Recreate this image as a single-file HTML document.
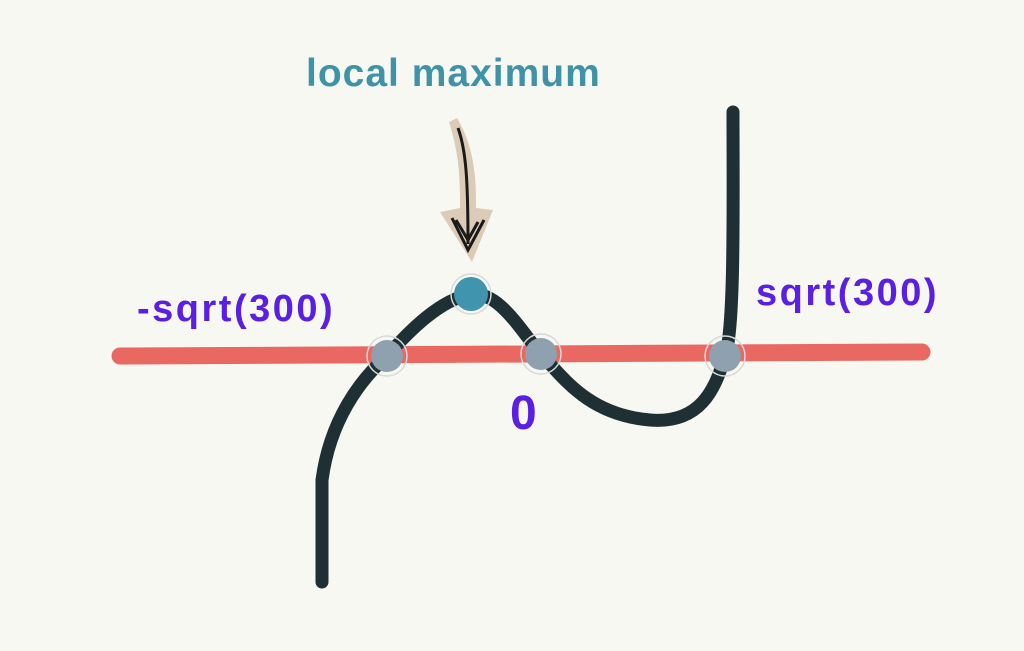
<!DOCTYPE html>
<html><head><style>
body{margin:0;width:1024px;height:651px;background:#f8f8f3;overflow:hidden;position:relative;font-family:"Liberation Sans","DejaVu Sans",sans-serif}
.t{position:absolute;font-weight:bold;white-space:nowrap}
</style></head><body>
<svg width="1024" height="651" style="position:absolute;left:0;top:0">
<line x1="120" y1="356" x2="922" y2="352" stroke="#e96862" stroke-width="17" stroke-linecap="round"/>
<path d="M322,582 L322,480 C330,420 360,380 387,356 C410,330 440,300 471,294 C500,292 520,330 541,354 C565,380 590,415 650,420 C700,424 715,390 725,356 C735,330 733,200 733,112" fill="none" stroke="#1e3033" stroke-width="13" stroke-linecap="round"/>
<path d="M449,122 L457,118 C470,140 476,165 476,200 L476,208 L493,210 L472,262 L440,212 L460,208 L460,200 C460,165 456,145 449,122 Z" fill="#dccbb6"/>
<path d="M458,128 C466,150 468,180 468,244" stroke="#1a1a1a" stroke-width="3" fill="none"/>
<path d="M452,218 L468,250 L484,220 M456,220 L468,240 L478,222" stroke="#1a1a1a" stroke-width="3" fill="none"/>
<g stroke="#d8d8d8" stroke-width="1.5">
<circle cx="387" cy="356" r="20" fill="none"/>
<circle cx="541" cy="354" r="20" fill="none"/>
<circle cx="725" cy="356" r="20" fill="none"/>
<circle cx="471" cy="294" r="20" fill="none"/>
</g>
<circle cx="387" cy="356" r="16" fill="#8fa0ae"/>
<circle cx="541" cy="354" r="16" fill="#8fa0ae"/>
<circle cx="725" cy="356" r="16" fill="#8fa0ae"/>
<circle cx="471" cy="294" r="17" fill="#4094ae"/>
</svg>
<div class="t" style="left:306px;top:52px;font-size:39px;letter-spacing:1px;color:#3f93a8">local maximum</div>
<div class="t" style="left:137px;top:288px;font-size:38px;letter-spacing:2.5px;color:#5a1fe2">-sqrt(300)</div>
<div class="t" style="left:756px;top:272px;font-size:38px;letter-spacing:2.5px;color:#5a1fe2">sqrt(300)</div>
<div class="t" style="left:510px;top:386px;font-size:48px;color:#5a1fe2">0</div>
</body></html>
